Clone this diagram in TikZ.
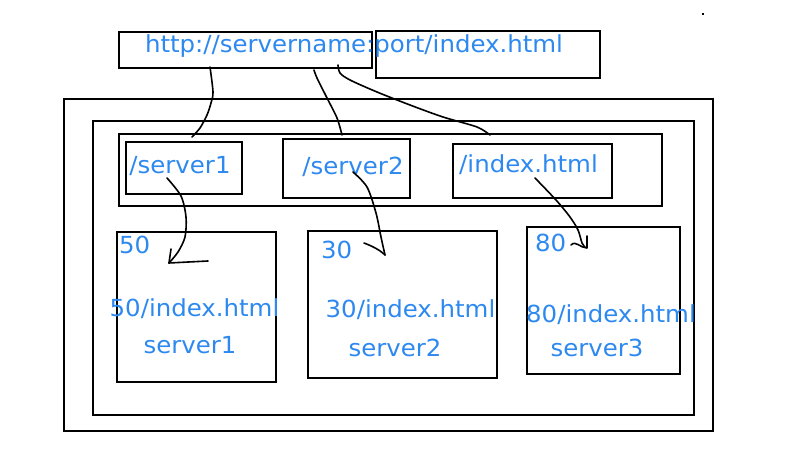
\documentclass[tikz,border=0pt]{standalone}
\usepackage{fontspec}
\setmainfont{DejaVu Sans}[FakeStretch=1.04]
\definecolor{urlblue}{RGB}{45,137,239}
\tikzset{
  box/.style={draw=black, line width=2pt},
  stroke/.style={line width=1.6pt, line cap=round, line join=round},
  lbl/.style={text=urlblue, font=\fontsize{23.5}{28}\selectfont, inner sep=0pt, anchor=base},
}

\begin{document}
\begin{tikzpicture}[x=1pt,y=-1pt]
			%%%%% START %%%%%
			\useasboundingbox (0,0) rectangle (788,457);
			\fill (702,13) rectangle (704,15);
			
			% url
			\draw[box] (119,32) rectangle (372,68);
			\draw[box] (376,31) rectangle (600,78);
			\node[lbl] (url) at (354,53) {http://servername:port/index.html};
			
			% frames
			\draw[box] (64,99) rectangle (713,431);
			\draw[box] (93,121) rectangle (694,415);
			\draw[box] (119,134) rectangle (662,206);
			
			% paths
			\draw[box] (126,142) rectangle (242,194);
			\draw[box] (283,139) rectangle (410,198);
			\draw[box] (453,144) rectangle (612,198);
			\node[lbl] (pone) at (180,174) {/server1};
			\node[lbl] (ptwo) at (353,175) {/server2};
			\node[lbl] (pidx) at (528.5,173) {/index.html};
			
			% servers
			\draw[box] (117,232) rectangle (276,382);
			\draw[box] (308,231) rectangle (497,378);
			\draw[box] (527,227) rectangle (680,374);
			\node[lbl, anchor=base west] (fifty) at (119,254) {50};
			\node[lbl, anchor=base west] (thirty) at (321,259) {30};
			\node[lbl, anchor=base west] (eighty) at (535,252) {80};
			\node[lbl] (idxone) at (194.5,317) {50/index.html};
			\node[lbl] (idxtwo) at (410.5,318) {30/index.html};
			\node[lbl] (idxthree) at (611,323) {80/index.html};
			\node[lbl] (srvone) at (190,354) {server1};
			\node[lbl] (srvtwo) at (395,357) {server2};
			\node[lbl] (srvthree) at (597,357) {server3};
			
			% url -> router
			\coordinate (ua) at (210,67);
			\coordinate (ub) at (314,70);
			\coordinate (uc) at (338,65);
			\coordinate (ra) at (192,137);
			\coordinate (rb) at (342,135);
			\coordinate (rc) at (490,135);
			\draw[stroke] plot[smooth] coordinates {(ua) (213,92) (211,103) (207,115) (200,128) (ra)};
			\draw[stroke] plot[smooth] coordinates {(ub) (317,78) (327,98) (337,118) (rb)};
			\draw[stroke] plot[smooth] coordinates {(uc) (340,73) (350,80) (377,92) (410,105) (443,117) (477,127) (rc)};
			
			% router -> servers
			\coordinate (sa) at (167,178);
			\coordinate (sb) at (353,172);
			\coordinate (sc) at (535,178);
			\coordinate (ta) at (169,263);
			\coordinate (tb) at (385,255);
			\coordinate (tc) at (587,248);
			\draw[stroke] plot[smooth] coordinates {(sa) (181,196) (186,217) (185,237) (178,252) (ta)};
			\draw[stroke] (ta) -- (171,249);
			\draw[stroke] (ta) -- (208,261);
			\draw[stroke] plot[smooth] coordinates {(sb) (367,187) (376,213) (381,237) (tb)};
			\draw[stroke] (364,243) .. controls (372,246) and (380,250) .. (tb);
			\draw[stroke] plot[smooth] coordinates {(sc) (556,200) (570,217) (578,230) (582,243) (585,247)};
			\draw[stroke] (571,245) .. controls (576,240) and (580,248) .. (tc) -- (587,236);
			
			%%%%% END %%%%%
\end{tikzpicture}
\end{document}
